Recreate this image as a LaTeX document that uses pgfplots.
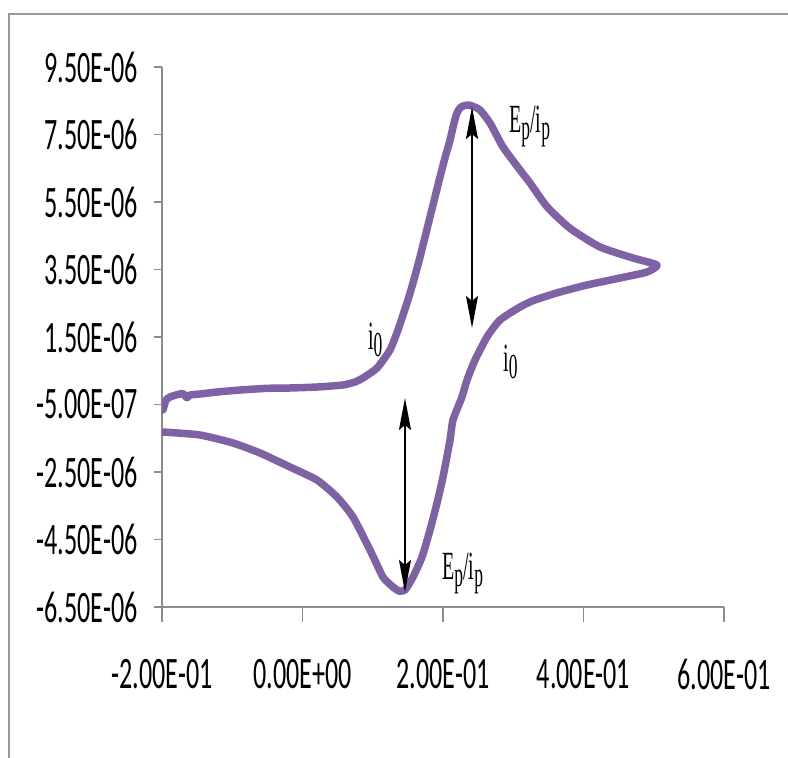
\documentclass[border=0pt]{standalone}
\usepackage{pgfplots}
\pgfplotsset{compat=1.18}
\usepackage{fontspec}
\setmainfont{Carlito}
\newfontfamily\tickfont[FakeStretch=0.58]{Carlito}
\newfontfamily\annfont[FakeStretch=0.5]{Liberation Serif}
\usetikzlibrary{arrows.meta}
\definecolor{cvpurple}{HTML}{7E62A3}
\definecolor{axgray}{HTML}{8C8C8C}
\definecolor{framegray}{HTML}{9A9A9A}
\newcommand{\sub}[1]{\raisebox{-7pt}{\fontsize{35}{37}\selectfont #1}}
\begin{document}
\begin{tikzpicture}
\useasboundingbox (0,0) rectangle (788pt,758pt);
\fill[white] (0,0) rectangle (788pt,758pt);
\draw[framegray, line width=2.5pt] (9pt,0) -- (9pt,744pt) -- (788pt,744pt);
\begin{axis}[
  at={(162pt,151pt)}, anchor=south west,
  scale only axis, width=562pt, height=540pt,
  xmin=-0.2, xmax=0.6, ymin=-6.5e-6, ymax=9.5e-6,
  axis lines=left, axis line style={-, axgray, line width=1.5pt},
  tick align=outside,
  major tick length=8pt,
  tick style={axgray, line width=1.5pt},
  xtick style={/pgfplots/major tick length=15pt},
  scaled ticks=false,
  xtick={-0.2,0,0.2,0.4,0.6},
  xticklabels={-2.00E-01,0.00E+00,2.00E-01,4.00E-01,6.00E-01},
  ytick={-6.5e-6,-4.5e-6,-2.5e-6,-0.5e-6,1.5e-6,3.5e-6,5.5e-6,7.5e-6,9.5e-6},
  yticklabels={-6.50E-06,-4.50E-06,-2.50E-06,-5.00E-07,1.50E-06,3.50E-06,5.50E-06,7.50E-06,9.50E-06},
  ticklabel style={font=\tickfont\fontsize{45}{47}\selectfont, inner sep=0pt},
  yticklabel style={anchor=east, xshift=-16pt},
  xticklabel style={anchor=north, yshift=-44pt},
]
\addplot[cvpurple, line width=7.5pt, line join=round, line cap=round, smooth, tension=0.35] table {
x y
-0.1986 -0.663e-6
-0.1943 -0.367e-6
-0.1886 -0.278e-6
-0.1786 -0.209e-6
-0.1701 -0.179e-6
-0.1644 -0.300e-6
-0.1601 -0.219e-6
-0.1459 -0.189e-6
-0.1217 -0.130e-6
-0.0890 -0.071e-6
-0.0505 -0.021e-6
-0.0178 -0.011e-6
0.0206 0.018e-6
0.0576 0.078e-6
0.0747 0.167e-6
0.0861 0.285e-6
0.1061 0.582e-6
0.1245 1.115e-6
0.1359 1.707e-6
0.1487 2.507e-6
0.1573 3.100e-6
0.1673 3.870e-6
0.1744 4.463e-6
0.1815 5.056e-6
0.1886 5.648e-6
0.1957 6.241e-6
0.2028 6.804e-6
0.2100 7.337e-6
0.2157 7.841e-6
0.2199 8.137e-6
0.2242 8.285e-6
0.2285 8.344e-6
0.2356 8.374e-6
0.2413 8.344e-6
0.2527 8.226e-6
0.2669 7.841e-6
0.2854 7.130e-6
0.3096 6.448e-6
0.3239 6.063e-6
0.3480 5.363e-6
0.3808 4.720e-6
0.4235 4.167e-6
0.4705 3.841e-6
0.5046 3.633e-6
0.4904 3.426e-6
0.4520 3.248e-6
0.4050 3.041e-6
0.3665 2.833e-6
0.3480 2.715e-6
0.3281 2.576e-6
0.3096 2.389e-6
0.2811 2.004e-6
0.2626 1.500e-6
0.2456 0.818e-6
0.2342 0.226e-6
0.2270 -0.278e-6
0.2142 -0.959e-6
0.2100 -1.552e-6
0.2000 -2.648e-6
0.1915 -3.419e-6
0.1815 -4.219e-6
0.1701 -5.019e-6
0.1573 -5.611e-6
0.1459 -5.996e-6
0.1374 -6.026e-6
0.1288 -5.908e-6
0.1146 -5.611e-6
0.0961 -4.811e-6
0.0719 -3.834e-6
0.0491 -3.241e-6
0.0206 -2.737e-6
-0.0178 -2.352e-6
-0.0605 -1.937e-6
-0.0989 -1.641e-6
-0.1459 -1.404e-6
-0.1986 -1.315e-6
};
\draw[black, line width=2pt, {Stealth[length=32pt,width=12pt,inset=5pt]}-{Stealth[length=32pt,width=12pt,inset=5pt]}]
  (axis cs:0.2413,8.314e-6) -- (axis cs:0.2413,1.767e-6);
\draw[black, line width=2pt, {Stealth[length=32pt,width=12pt,inset=5pt]}-{Stealth[length=32pt,width=12pt,inset=5pt]}]
  (axis cs:0.1459,-0.308e-6) -- (axis cs:0.1459,-6.056e-6);
\node[anchor=base west, inner sep=0pt, font=\annfont\fontsize{40}{42}\selectfont] at (axis cs:0.2940,7.574e-6) {E\sub{p}/i\sub{p}};
\node[anchor=base west, inner sep=0pt, font=\annfont\fontsize{40}{42}\selectfont] at (axis cs:0.1986,-5.700e-6) {E\sub{p}/i\sub{p}};
\node[anchor=base west, inner sep=0pt, font=\annfont\fontsize{40}{42}\selectfont] at (axis cs:0.0932,1.115e-6) {i\sub{0}};
\node[anchor=base west, inner sep=0pt, font=\annfont\fontsize{40}{42}\selectfont] at (axis cs:0.2854,0.463e-6) {i\sub{0}};
\end{axis}
\end{tikzpicture}
\end{document}
